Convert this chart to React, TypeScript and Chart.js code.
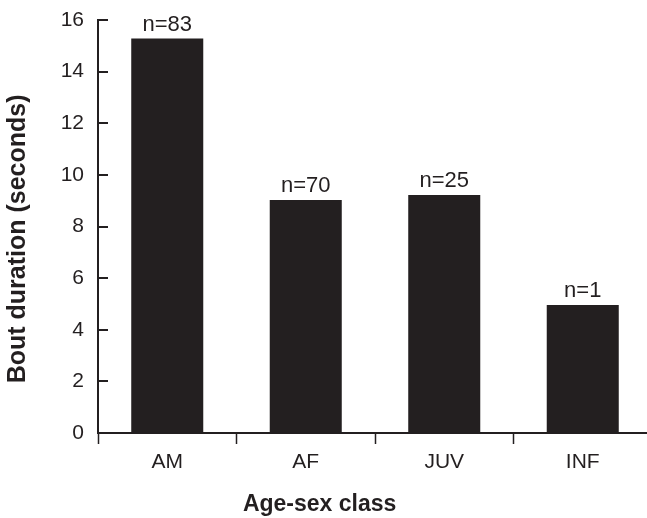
import React, { useEffect, useRef } from "react";
import { Chart, registerables } from "chart.js";

Chart.register(...registerables);

const categories = ["AM", "AF", "JUV", "INF"];
const boutDuration = [15.28, 9.03, 9.22, 4.96];
const sampleSizes = ["n=83", "n=70", "n=25", "n=1"];
const yTicks = [0, 2, 4, 6, 8, 10, 12, 14, 16];
const xTitle = "Age-sex class";
const yTitle = "Bout duration (seconds)";

const INK = "#231f20";
const FONT = "'Liberation Sans', Arial, Helvetica, sans-serif";

const nLabelPlugin = {
  id: "nLabels",
  afterDatasetsDraw(chart: any) {
    const ctx = chart.ctx;
    const meta = chart.getDatasetMeta(0);
    ctx.save();
    ctx.fillStyle = INK;
    ctx.font = `22px ${FONT}`;
    ctx.textAlign = "center";
    ctx.textBaseline = "alphabetic";
    meta.data.forEach((bar: any, i: number) => {
      ctx.fillText(sampleSizes[i], bar.x, bar.y - 8);
    });
    ctx.restore();
  },
};

const inwardTicksPlugin = {
  id: "inwardTicks",
  afterDraw(chart: any) {
    const ctx = chart.ctx;
    const y = chart.scales.y;
    const left = chart.chartArea.left;
    ctx.save();
    ctx.strokeStyle = INK;
    ctx.lineWidth = 2;
    y.ticks.forEach((t: any) => {
      const py = Math.round(y.getPixelForValue(t.value));
      ctx.beginPath();
      ctx.moveTo(left, py);
      ctx.lineTo(left + 10, py);
      ctx.stroke();
    });
    ctx.restore();
  },
};

const axisTitlePlugin = {
  id: "axisTitles",
  afterDraw(chart: any) {
    const ctx = chart.ctx;
    const area = chart.chartArea;
    ctx.save();
    ctx.fillStyle = INK;
    ctx.textAlign = "center";
    ctx.textBaseline = "middle";
    ctx.font = `bold 23px ${FONT}`;
    ctx.fillText(xTitle, area.left + area.width * 0.4, chart.height - 13);
    ctx.translate(18, area.top + area.height * 0.53);
    ctx.rotate(-Math.PI / 2);
    ctx.font = `bold 25px ${FONT}`;
    ctx.fillText(yTitle, 0, 0);
    ctx.restore();
  },
};

export default function App() {
  const canvasRef = useRef<HTMLCanvasElement | null>(null);

  useEffect(() => {
    if (!canvasRef.current) return;
    const chart = new Chart(canvasRef.current, {
      type: "bar",
      data: {
        labels: categories,
        datasets: [
          {
            data: boutDuration,
            backgroundColor: INK,
            borderWidth: 0,
            categoryPercentage: 1,
            barPercentage: 0.52,
          },
        ],
      },
      options: {
        animation: false,
        responsive: false,
        maintainAspectRatio: false,
        layout: { padding: { top: 20, right: 0, left: 0, bottom: 0 } },
        plugins: {
          legend: { display: false },
          tooltip: { enabled: false },
        },
        scales: {
          x: {
            type: "category",
            offset: true,
            afterFit: (scale: any) => {
              scale.height = 85;
              scale.paddingLeft = 0;
              scale.paddingRight = 0;
            },
            grid: {
              offset: true,
              drawOnChartArea: false,
              drawTicks: true,
              tickLength: 11,
              tickColor: INK,
              tickWidth: 1.5,
            },
            border: { display: true, color: INK, width: 2 },
            ticks: {
              color: INK,
              font: { family: FONT, size: 21 },
              padding: 6,
            },
            title: { display: false, text: xTitle },
          },
          y: {
            min: 0,
            max: 16,
            afterFit: (scale: any) => {
              scale.width = 98;
              scale.paddingTop = 0;
              scale.paddingBottom = 0;
            },
            afterBuildTicks: (scale: any) => {
              scale.ticks = yTicks.map((v) => ({ value: v }));
            },
            grid: {
              drawOnChartArea: false,
              drawTicks: false,
            },
            border: { display: true, color: INK, width: 2 },
            ticks: {
              color: INK,
              font: { family: FONT, size: 21 },
              padding: 14,
              stepSize: 2,
            },
            title: { display: false, text: yTitle },
          },
        },
      },
      plugins: [nLabelPlugin, inwardTicksPlugin, axisTitlePlugin],
    });
    return () => chart.destroy();
  }, []);

  return (
    <div
      style={{
        position: "fixed",
        left: 0,
        top: 0,
        width: 647,
        height: 518,
        overflow: "hidden",
        background: "#fff",
      }}
    >
      <canvas ref={canvasRef} width={652} height={518} style={{ display: "block" }} />
    </div>
  );
}
